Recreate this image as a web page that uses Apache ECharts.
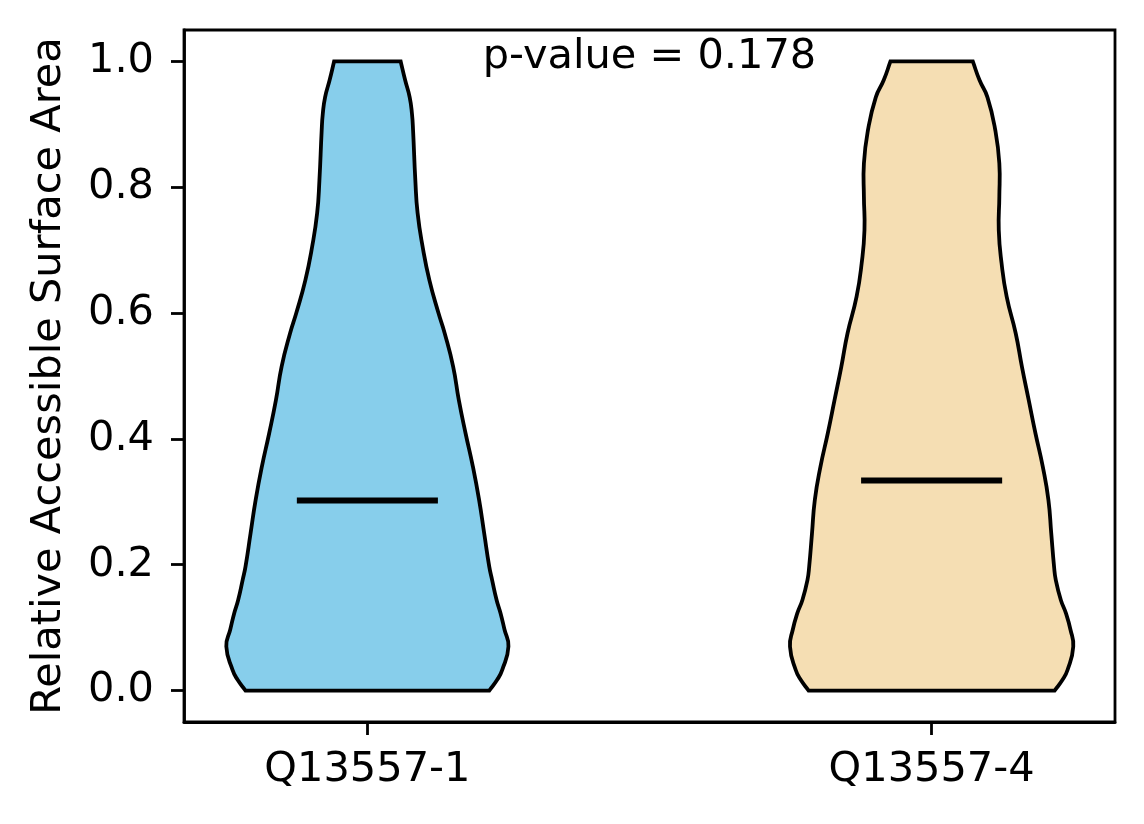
<!DOCTYPE html>
<html><head><meta charset="utf-8">
<script src="https://cdn.jsdelivr.net/npm/echarts@6/dist/echarts.min.js"></script>
<style>html,body{margin:0;padding:0;background:#fff}#c{width:1144px;height:824px}</style>
</head><body><div id="c"></div>
<script>
// ---- data ----
const categories = ['Q13557-1', 'Q13557-4'];
const positions = [1, 2];
const yTicks = [0.0, 0.2, 0.4, 0.6, 0.8, 1.0];
const pValueText = 'p-value = 0.178';
const yAxisTitle = 'Relative Accessible Surface Area';

// violin 1 profile: y value and half-width (x-axis units)
const v1Y = [0.000, 0.017, 0.033, 0.070, 0.097, 0.123, 0.144, 0.176, 0.197, 0.250, 0.303, 0.356, 0.409, 0.462, 0.515, 0.568, 0.600, 0.652, 0.705, 0.759, 0.811, 0.890, 0.917, 0.943, 0.970, 1.000];
const v1HalfWidth = [0.216, 0.230, 0.239, 0.250, 0.243, 0.236, 0.229, 0.221, 0.216, 0.207, 0.198, 0.187, 0.174, 0.162, 0.152, 0.137, 0.126, 0.110, 0.098, 0.089, 0.085, 0.081, 0.079, 0.075, 0.067, 0.059];
// violin 2 profile
const v2Y = [0.000, 0.017, 0.033, 0.070, 0.097, 0.123, 0.144, 0.176, 0.197, 0.250, 0.303, 0.356, 0.409, 0.462, 0.515, 0.568, 0.626, 0.679, 0.732, 0.785, 0.838, 0.890, 0.943, 0.970, 1.000];
const v2HalfWidth = [0.218, 0.232, 0.241, 0.251, 0.246, 0.238, 0.229, 0.220, 0.217, 0.212, 0.207, 0.197, 0.184, 0.172, 0.160, 0.149, 0.133, 0.124, 0.119, 0.120, 0.120, 0.113, 0.099, 0.085, 0.073];
const medians = [0.302, 0.334];

// ---- styling ----
const colors = ['#87CEEB', '#F5DEB3'];
const medianHalfLen = 0.125;
const FONT = 'DejaVu Sans';
const FS = 41.5;

const violins = [
  { ys: v1Y, hw: v1HalfWidth },
  { ys: v2Y, hw: v2HalfWidth }
];

function renderViolin(params, api) {
  const i = params.dataIndex;
  const pos = api.value(0);
  const med = api.value(1);
  const v = violins[i];
  const right = v.ys.map((y, k) => api.coord([pos + v.hw[k], y]));
  const left = v.ys.map((y, k) => api.coord([pos - v.hw[k], y])).reverse();
  const n = right.length;
  const pts = [right[0], right[0]].concat(right.slice(1, n - 1), [right[n - 1], right[n - 1], left[0], left[0]], left.slice(1, n - 1), [left[n - 1], left[n - 1]]);
  const a = api.coord([pos - medianHalfLen, med]);
  const b = api.coord([pos + medianHalfLen, med]);
  return {
    type: 'group',
    children: [
      {
        type: 'polygon',
        shape: { points: pts, smooth: 0.5 },
        style: { fill: colors[i], stroke: '#000', lineWidth: 3.8 }
      },
      {
        type: 'line',
        shape: { x1: a[0], y1: a[1], x2: b[0], y2: b[1] },
        style: { stroke: '#000', lineWidth: 6 }
      }
    ]
  };
}

const chart = echarts.init(document.getElementById('c'));
chart.setOption({
  animation: false,
  backgroundColor: '#fff',
  grid: { left: 184, right: 29, top: 30, bottom: 102, show: true, borderColor: '#000', borderWidth: 2.8, backgroundColor: 'transparent' },
  xAxis: {
    type: 'value', min: 0.675, max: 2.325,
    splitLine: { show: false },
    axisLine: { show: true, onZero: false, lineStyle: { color: '#000', width: 2.8 } },
    axisTick: { show: true, length: 13, customValues: positions, lineStyle: { color: '#000', width: 2.8 } },
    axisLabel: {
      customValues: positions, margin: 27, color: '#000', fontSize: FS, fontFamily: FONT,
      formatter: v => categories[positions.indexOf(Math.round(v))] || ''
    }
  },
  yAxis: {
    type: 'value', min: -0.05, max: 1.05,
    name: yAxisTitle, nameLocation: 'middle', nameGap: 114,
    nameTextStyle: { fontSize: FS, fontFamily: FONT, color: '#000' },
    splitLine: { show: false },
    axisLine: { show: true, onZero: false, lineStyle: { color: '#000', width: 2.8 } },
    axisTick: { show: true, length: 13, customValues: yTicks, lineStyle: { color: '#000', width: 2.8 } },
    axisLabel: {
      customValues: yTicks, margin: 30, color: '#000', fontSize: FS, fontFamily: FONT,
      formatter: v => v.toFixed(1)
    }
  },
  graphic: [{
    type: 'text', x: 649.5, y: 57,
    style: { text: pValueText, fontSize: FS, fontFamily: FONT, fill: '#000', align: 'center', verticalAlign: 'middle' }
  }],
  series: [{
    type: 'custom',
    renderItem: renderViolin,
    data: positions.map((p, i) => [p, medians[i]]),
    encode: { x: 0, y: 1 },
    clip: false
  }]
});
</script></body></html>
